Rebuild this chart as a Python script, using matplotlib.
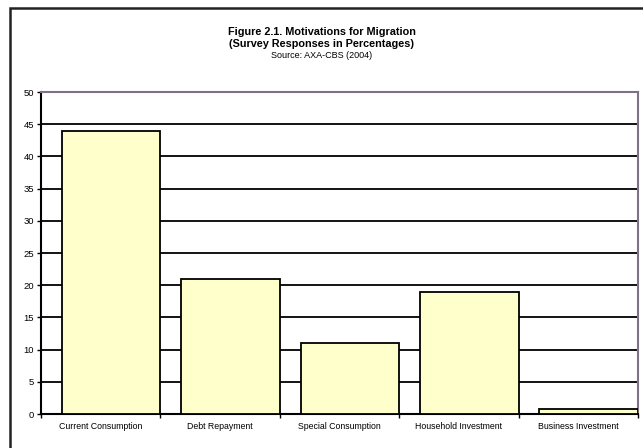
import numpy as np
import matplotlib
matplotlib.use("Agg")
import matplotlib.pyplot as plt
from matplotlib.patches import Rectangle

# data
categories = ["Current Consumption", "Debt Repayment", "Special Consumption",
              "Household Investment", "Business Investment"]
values = [44, 21, 11, 19, 0.8]

plt.rcParams['font.family'] = ['Liberation Sans', 'DejaVu Sans']

fig = plt.figure(figsize=(6.43, 4.48), dpi=100)
# outer chart frame (open to the right and bottom, cropped)
fig.patches.append(Rectangle((10/643, -0.1), 1.2, 1 - 8/448 + 0.1,
                             transform=fig.transFigure, fill=False,
                             edgecolor='#222222', linewidth=1.8))

ax = fig.add_axes([41/643, 1 - 414/448, (638-41)/643, (414-92)/448])
x = np.arange(len(categories))
ax.bar(x + 0.175, values, width=0.825, align='edge', color='#FFFFCC',
       edgecolor='black', linewidth=1.3, zorder=3)

ax.set_xlim(0, len(categories))
ax.set_ylim(0, 50)
ax.set_yticks(np.arange(0, 51, 5))
ax.set_xticks(x + 0.5)
ax.set_xticklabels(categories, fontsize=6.3)
ax.tick_params(axis='x', length=0, pad=6)
ax.set_xticks(np.arange(len(categories) + 1), minor=True)
ax.tick_params(axis='x', which='minor', length=3, width=1)
ax.tick_params(axis='y', labelsize=6.8, length=3, width=1, pad=2)
for yv in range(5, 50, 5):
    ax.axhline(yv, color='black', linewidth=1.3, zorder=1)
ax.spines['left'].set_linewidth(1.5)
ax.spines['bottom'].set_linewidth(1.5)
for s in ['top', 'right']:
    ax.spines[s].set_color('#807088')
    ax.spines[s].set_linewidth(1.5)

fig.text(0.5, 1 - 32/448, "Figure 2.1. Motivations for Migration",
         ha='center', va='center', fontsize=7.8, fontweight='bold')
fig.text(0.5, 1 - 44/448, "(Survey Responses in Percentages)",
         ha='center', va='center', fontsize=7.8, fontweight='bold')
fig.text(0.5, 1 - 56/448, "Source: AXA-CBS (2004)",
         ha='center', va='center', fontsize=6.5)

fig.savefig("out.png", dpi=100)
